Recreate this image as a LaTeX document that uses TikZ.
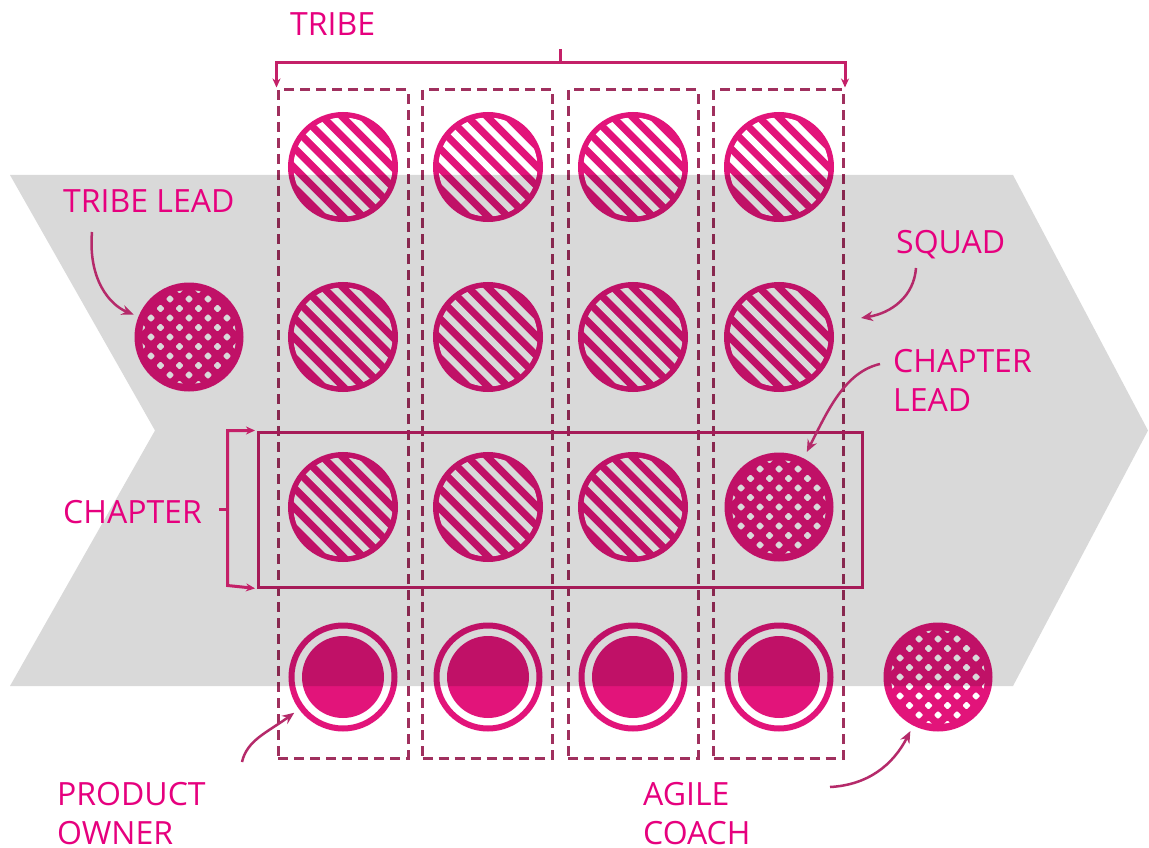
\documentclass[tikz,border=0pt]{standalone}
\usepackage{fontspec}
\setmainfont{Open Sans}
\usetikzlibrary{arrows.meta,calc}
\definecolor{tribepink}{HTML}{E6007E}
\definecolor{circlepink}{HTML}{E2147A}
\definecolor{dashpink}{HTML}{A0305E}
\definecolor{linepink}{HTML}{C42068}
\definecolor{arrowpink}{HTML}{B52A6A}
\definecolor{bandgray}{HTML}{D9D9D9}
\tikzset{
  member/.style={circle, inner sep=0pt, minimum size=105pt, line width=5pt, draw=circlepink, fill=circlepink,
    path picture={
      \begin{scope}[shift={(path picture bounding box.center)}]
        \clip (0,0) circle (49.5);
        \foreach \k in {-5,...,5}
          \draw[white, line width=6.5pt] (\k*9.9-60,-\k*9.9-60) -- ++(120,120);
      \end{scope}}},
  lead/.style={circle, inner sep=0pt, minimum size=109pt, fill=circlepink,
    path picture={
      \begin{scope}[shift={(path picture bounding box.center)}]
        \clip (0,0) circle (47);
        \foreach \a in {-6,...,6}
          \foreach \b in {-6,...,6}
            \fill[white, rounded corners=1pt] ({(\a-\b)*9.5},{(\a+\b)*9.5}) +(-4.2,0) -- +(0,-4.2) -- +(4.2,0) -- +(0,4.2) -- cycle;
      \end{scope}}},
  owner/.style={circle, inner sep=0pt, minimum size=103pt, line width=6pt, draw=circlepink,
    path picture={\fill[circlepink] (path picture bounding box.center) circle (41);}},
  squad/.style={rectangle, inner sep=0pt, minimum width=130pt, minimum height=668pt,
    draw=dashpink, line width=3pt, dash pattern=on 10pt off 6pt},
  role/.style={text=tribepink, font=\fontsize{32}{39}\selectfont, inner sep=0pt, anchor=north west, align=left},
  brk/.style={draw=linepink, line width=3pt},
  brktips/.style={{Stealth[length=9pt,width=8pt]}-{Stealth[length=9pt,width=8pt]}},
  pointer/.style={draw=arrowpink, line width=2.5pt, -{Stealth[length=12pt,width=10pt]}},
}
\begin{document}
\begin{tikzpicture}[x=1pt,y=-1pt]
  \useasboundingbox[fill=white] (0,0) rectangle (1149,848);
  % squads
  \foreach \x [count=\i] in {343,487.5,633,778.5}
    \node[squad] (sq\i) at (\x,424) {};
  % people
  \foreach \x [count=\i] in {343,488,633,779} {
    \node[member] (top\i) at (\x,167) {};
    \node[member] (mid\i) at (\x,337) {};
    \node[owner] (po\i) at (\x,677) {};
  }
  \foreach \x [count=\i] in {343,488,633}
    \node[member] (ch\i) at (\x,507) {};
  \node[lead] (cl) at (779,507) {};
  \node[lead] (tl) at (189,337) {};
  \node[lead] (ac) at (938,677) {};
  \node[draw=linepink, line width=3pt, inner sep=0pt, minimum width=604pt, minimum height=155pt] (chap) at (560,509.5) {};
  % band
  \begin{scope}[blend mode=multiply]
    \fill[bandgray] (10,175) -- (1013,175) -- (1148,430.5) -- (1013,686) -- (10,686) -- (155,430.5) -- cycle;
  \end{scope}
  % brackets
  \draw[brk, brktips, shorten <=1pt, shorten >=1pt] (sq1.north west) -- ++(0,-26) -| (sq4.north east);
  \draw[brk] ($(sq1.north west)!0.5!(sq4.north east)$) ++(0,-26) -- ++(0,-13);
  \draw[brk, brktips, shorten <=1.5pt, shorten >=1.5pt] (chap.north west) -- ++(-29,0) -- ++(0,155) -- (chap.south west);
  \draw[brk] ([xshift=-29pt]chap.west) -- ++(-9,0);
  % labels
  \node[role] (tribeLbl) at (290,12) {TRIBE};
  \node[role] (tlLbl) at (63,189) {TRIBE LEAD};
  \node[role] (sqLbl) at (896,230) {SQUAD};
  \node[role] (clLbl) at (893,349) {CHAPTER\\LEAD};
  \node[role] (chLbl) at (63,500) {CHAPTER};
  \node[role] (poLbl) at (57,782) {PRODUCT\\OWNER};
  \node[role] (acLbl) at (643,782) {AGILE\\COACH};
  % pointers
  \coordinate (tlFrom) at (92,232);
  \coordinate (sqFrom) at (916,268);
  \coordinate (sqTo) at (861,318);
  \coordinate (clFrom) at (880,364);
  \coordinate (poFrom) at (242,762);
  \coordinate (acFrom) at (830,787);
  \draw[pointer, shorten >=5pt] (tlFrom) .. controls (88,280) and (110,305) .. (tl);
  \draw[pointer] (sqFrom) .. controls (914,296) and (892,313) .. (sqTo);
  \draw[pointer, shorten >=7pt] (clFrom) .. controls (845,372) and (828,410) .. (cl);
  \draw[pointer, shorten >=6pt] (poFrom) .. controls (247,740) and (268,732) .. (po1);
  \draw[pointer, shorten >=6pt] (acFrom) .. controls (868,785) and (893,765) .. (ac);
\end{tikzpicture}
\end{document}
